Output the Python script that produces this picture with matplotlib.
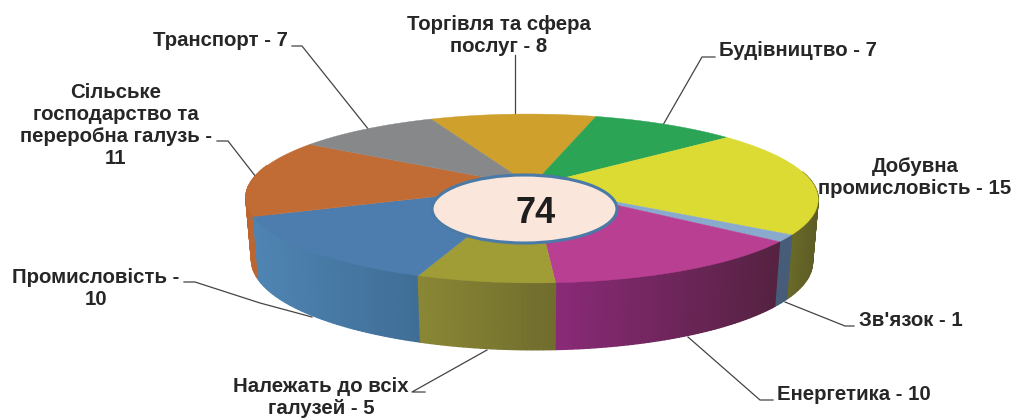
import numpy as np
import matplotlib
matplotlib.use("Agg")
import matplotlib.pyplot as plt
from matplotlib.colors import to_rgb
from matplotlib.patches import Ellipse

plt.rcParams['font.family'] = ['Liberation Sans', 'DejaVu Sans']

# clockwise from the top-left boundary
categories = ["Торгівля та сфера послуг", "Будівництво", "Добувна промисловість", "Зв'язок",
              "Енергетика", "Належать до всіх галузей", "Промисловість",
              "Сільське господарство та переробна галузь", "Транспорт"]
values = [8, 7, 15, 1, 10, 5, 10, 11, 7]
total = 74
top_colors = ["#cfa02c", "#2ba555", "#dcdb33", "#8aaacd", "#b83f92", "#a09c36", "#4c7dae", "#c26c35", "#87888a"]
side_left = ["#a07a20", "#1f7a40", "#6a6a28", "#465c78", "#8a2a78", "#8a8735", "#4f84b2", "#bb6630", "#666666"]
side_right = ["#a07a20", "#1f7a40", "#5c5c26", "#465c78", "#552240", "#6f6c2e", "#3f6d96", "#bb6630", "#666666"]
start_angle = -23.0

labels = [
    ("Торгівля та сфера\nпослуг - 8", 499, 35, 'center'),
    ("Будівництво - 7", 798, 51, 'center'),
    ("Добувна\nпромисловість - 15", 915, 177, 'center'),
    ("Зв'язок - 1", 911, 320, 'center'),
    ("Енергетика - 10", 854, 394, 'center'),
    ("Належать до всіх\nгалузей - 5", 321, 397, 'center'),
    ("Промисловість -\n10", 96, 288, 'center'),
    ("Сільське\nгосподарство та\nпереробна галузь -\n11", 116, 125, 'center'),
    ("Транспорт - 7", 220, 40, 'center'),
]
leaders = [
    [(515, 55), (515, 115)],
    [(715, 57), (702, 57), (663, 125)],
    [(854, 326), (845, 326), (785, 302)],
    [(773, 400), (760, 400), (688, 337)],
    [(425, 392), (412, 392), (487, 350)],
    [(184, 282), (195, 282), (260, 303), (312, 317)],
    [(217, 141), (228, 141), (256, 177)],
    [(292, 46), (302, 46), (369, 130)],
]
centre_value = "74"

# projected disc
X0, Y0, A, H, K, SHEAR = 531.5, 186.0, 283.0, 82.6, 0.148, 3.5


def top_rim(theta):
    u, v = np.sin(theta), np.cos(theta)
    d = 1 + K * v
    return X0 + A * u / d - SHEAR * v, Y0 - H * v / d


def bottom_rim(theta):
    x, y = top_rim(theta)
    return X0 + 0.98 * (x - X0), Y0 + 62 + 1.05 * (y - Y0)


fig = plt.figure(figsize=(10.16, 4.19), dpi=100)
ax = fig.add_axes([0, 0, 1, 1])
ax.set_xlim(0, 1016)
ax.set_ylim(419, 0)
ax.axis('off')

for pts in leaders:
    p = np.array(pts)
    ax.plot(p[:, 0], p[:, 1], color='#444444', lw=0.9, zorder=1)

edges = start_angle + np.concatenate([[0], np.cumsum(values)]) / total * 360.0

# side wall, back to front
mids = 0.5 * (edges[:-1] + edges[1:])
for i in np.argsort(-np.cos(np.radians(mids))):
    a0, a1 = edges[i], edges[i + 1]
    a0c, a1c = max(a0, 80.0), min(a1, 285.0)
    if a1c <= a0c:
        continue
    n = max(int((a1c - a0c) / 1.0), 2)
    th = np.radians(np.linspace(a0c, a1c, n + 1))
    xt, yt = top_rim(th)
    xb, yb = bottom_rim(th)
    cl, cr = np.array(to_rgb(side_left[i])), np.array(to_rgb(side_right[i]))
    xl, xr = min(xt), max(xt)
    for j in range(n):
        t = (0.5 * (xt[j] + xt[j + 1]) - xl) / max(xr - xl, 1)
        col = cl + (cr - cl) * t
        ax.fill([xt[j], xt[j + 1], xb[j + 1], xb[j]], [yt[j], yt[j + 1], yb[j + 1], yb[j]],
                facecolor=col, edgecolor=col, lw=1.0, zorder=2)

# top faces
for i in range(len(values)):
    th = np.radians(np.linspace(edges[i], edges[i + 1], 80))
    x, y = top_rim(th)
    ax.fill(np.r_[X0, x], np.r_[Y0, y], color=top_colors[i], lw=0.3, zorder=3)

ax.add_patch(Ellipse((524.5, 209), 185, 68, facecolor='#fae6da', edgecolor='#4a7aa8', lw=2.2, zorder=4))
ax.text(536, 213, centre_value, fontsize=26, fontweight='bold', color='#1e1e1e',
        ha='center', va='center', zorder=5)

for txt, x, y, ha in labels:
    ax.text(x, y, txt, fontsize=14.7, fontweight='bold', color='#262626', ha=ha, va='center',
            linespacing=1.2, zorder=6)

fig.savefig("out.png", dpi=100)
